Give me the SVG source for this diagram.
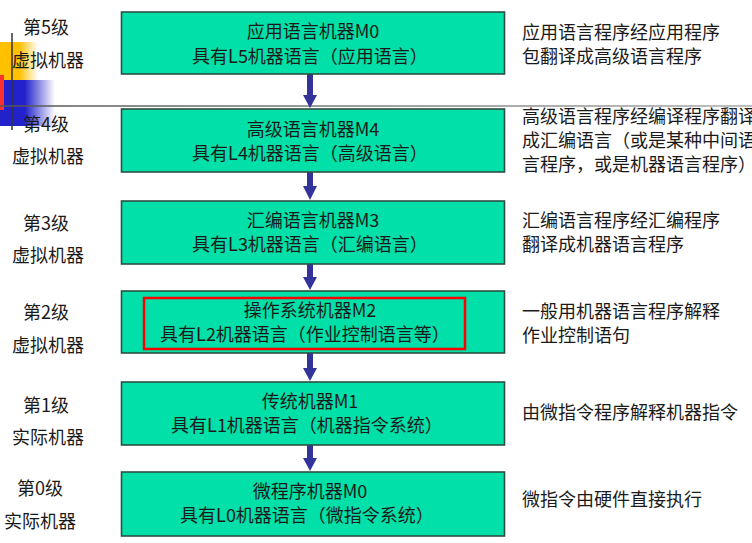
<svg xmlns="http://www.w3.org/2000/svg" width="752" height="543" viewBox="0 0 752 543">
<defs>
<style>
.t{font-family:"Noto Sans CJK SC","Liberation Sans",sans-serif;font-size:18px;fill:#1a1a1a;}
.c{text-anchor:middle;}
.box{fill:#00E0A8;stroke:#2f4f44;stroke-width:1.6;}
.sh{stroke:#333399;stroke-width:6;fill:none;}
.hd{fill:#333399;}
</style>
<linearGradient id="gy" x1="0" x2="1" y1="0" y2="0">
<stop offset="0" stop-color="#FFC000"/><stop offset="0.5" stop-color="#FFC000"/><stop offset="1" stop-color="#FFC000" stop-opacity="0"/>
</linearGradient>
<linearGradient id="gb" x1="0" x2="1" y1="0" y2="0">
<stop offset="0" stop-color="#2222CC"/><stop offset="0.45" stop-color="#2222CC"/><stop offset="1" stop-color="#2222CC" stop-opacity="0"/>
</linearGradient>
<linearGradient id="gl" gradientUnits="userSpaceOnUse" x1="0" y1="106" x2="752" y2="106">
<stop offset="0" stop-color="#555"/><stop offset="1" stop-color="#aaa"/>
</linearGradient>
</defs>
<rect width="752" height="543" fill="#fff"/>
<g id="decor">
<rect x="0" y="42" width="38" height="38" fill="url(#gy)"/>
<rect x="0" y="80" width="55" height="46" fill="url(#gb)"/>
<rect x="0" y="75" width="4" height="35" fill="#ff3030"/>
<line x1="12" y1="33" x2="12" y2="130" stroke="#333" stroke-width="1.5"/>
<line x1="0" y1="106" x2="752" y2="106" stroke="url(#gl)" stroke-width="1.6"/>
</g>
<g id="connectors">
<path class="sh" d="M310 74V96"/><path class="hd" d="M303 95H317L310 108Z"/>
<path class="sh" d="M310 172V188"/><path class="hd" d="M303 186H317L310 200Z"/>
<path class="sh" d="M310 264V279"/><path class="hd" d="M303 277H317L310 290Z"/>
<path class="sh" d="M310 353V370"/><path class="hd" d="M303 368H317L310 381Z"/>
<path class="sh" d="M310 445V460"/><path class="hd" d="M303 458H317L310 471Z"/>
</g>
<g id="level5">
<text class="t c" x="46" y="34">第5级</text>
<text class="t c" x="48" y="67">虚拟机器</text>
<rect class="box" x="121.5" y="12" width="383" height="62"/>
<text class="t c" x="313" y="38">应用语言机器M0</text>
<text class="t c" x="310" y="63">具有L5机器语言（应用语言）</text>
<text class="t" x="522" y="39">应用语言程序经应用程序</text>
<text class="t" x="522" y="63">包翻译成高级语言程序</text>
</g>
<g id="level4">
<text class="t c" x="46" y="131">第4级</text>
<text class="t c" x="48" y="163">虚拟机器</text>
<rect class="box" x="121.5" y="109" width="383" height="63"/>
<text class="t c" x="313" y="136">高级语言机器M4</text>
<text class="t c" x="310" y="160">具有L4机器语言（高级语言）</text>
<text class="t" x="522" y="123">高级语言程序经编译程序翻译</text>
<text class="t" x="522" y="147">成汇编语言（或是某种中间语</text>
<text class="t" x="522" y="171">言程序，或是机器语言程序）</text>
</g>
<g id="level3">
<text class="t c" x="46" y="230">第3级</text>
<text class="t c" x="48" y="262">虚拟机器</text>
<rect class="box" x="121.5" y="201" width="383" height="63"/>
<text class="t c" x="313" y="227">汇编语言机器M3</text>
<text class="t c" x="310" y="251">具有L3机器语言（汇编语言）</text>
<text class="t" x="522" y="227">汇编语言程序经汇编程序</text>
<text class="t" x="522" y="251">翻译成机器语言程序</text>
</g>
<g id="level2">
<text class="t c" x="46" y="319">第2级</text>
<text class="t c" x="48" y="352">虚拟机器</text>
<rect class="box" x="121.5" y="291" width="383" height="62"/>
<rect x="144" y="298" width="321" height="51" fill="none" stroke="#ff0000" stroke-width="2.5"/>
<text class="t c" x="310" y="317">操作系统机器M2</text>
<text class="t c" x="305" y="341">具有L2机器语言（作业控制语言等）</text>
<text class="t" x="522" y="318">一般用机器语言程序解释</text>
<text class="t" x="522" y="342">作业控制语句</text>
</g>
<g id="level1">
<text class="t c" x="46" y="412">第1级</text>
<text class="t c" x="48" y="444">实际机器</text>
<rect class="box" x="121.5" y="382" width="383" height="63"/>
<text class="t c" x="310" y="408">传统机器M1</text>
<text class="t c" x="307" y="432">具有L1机器语言（机器指令系统）</text>
<text class="t" x="522" y="419">由微指令程序解释机器指令</text>
</g>
<g id="level0">
<text class="t c" x="40" y="495">第0级</text>
<text class="t c" x="40" y="528">实际机器</text>
<rect class="box" x="121.5" y="472" width="383" height="64"/>
<text class="t c" x="310" y="498">微程序机器M0</text>
<text class="t c" x="307" y="522">具有L0机器语言（微指令系统）</text>
<text class="t" x="522" y="506">微指令由硬件直接执行</text>
</g>
</svg>
